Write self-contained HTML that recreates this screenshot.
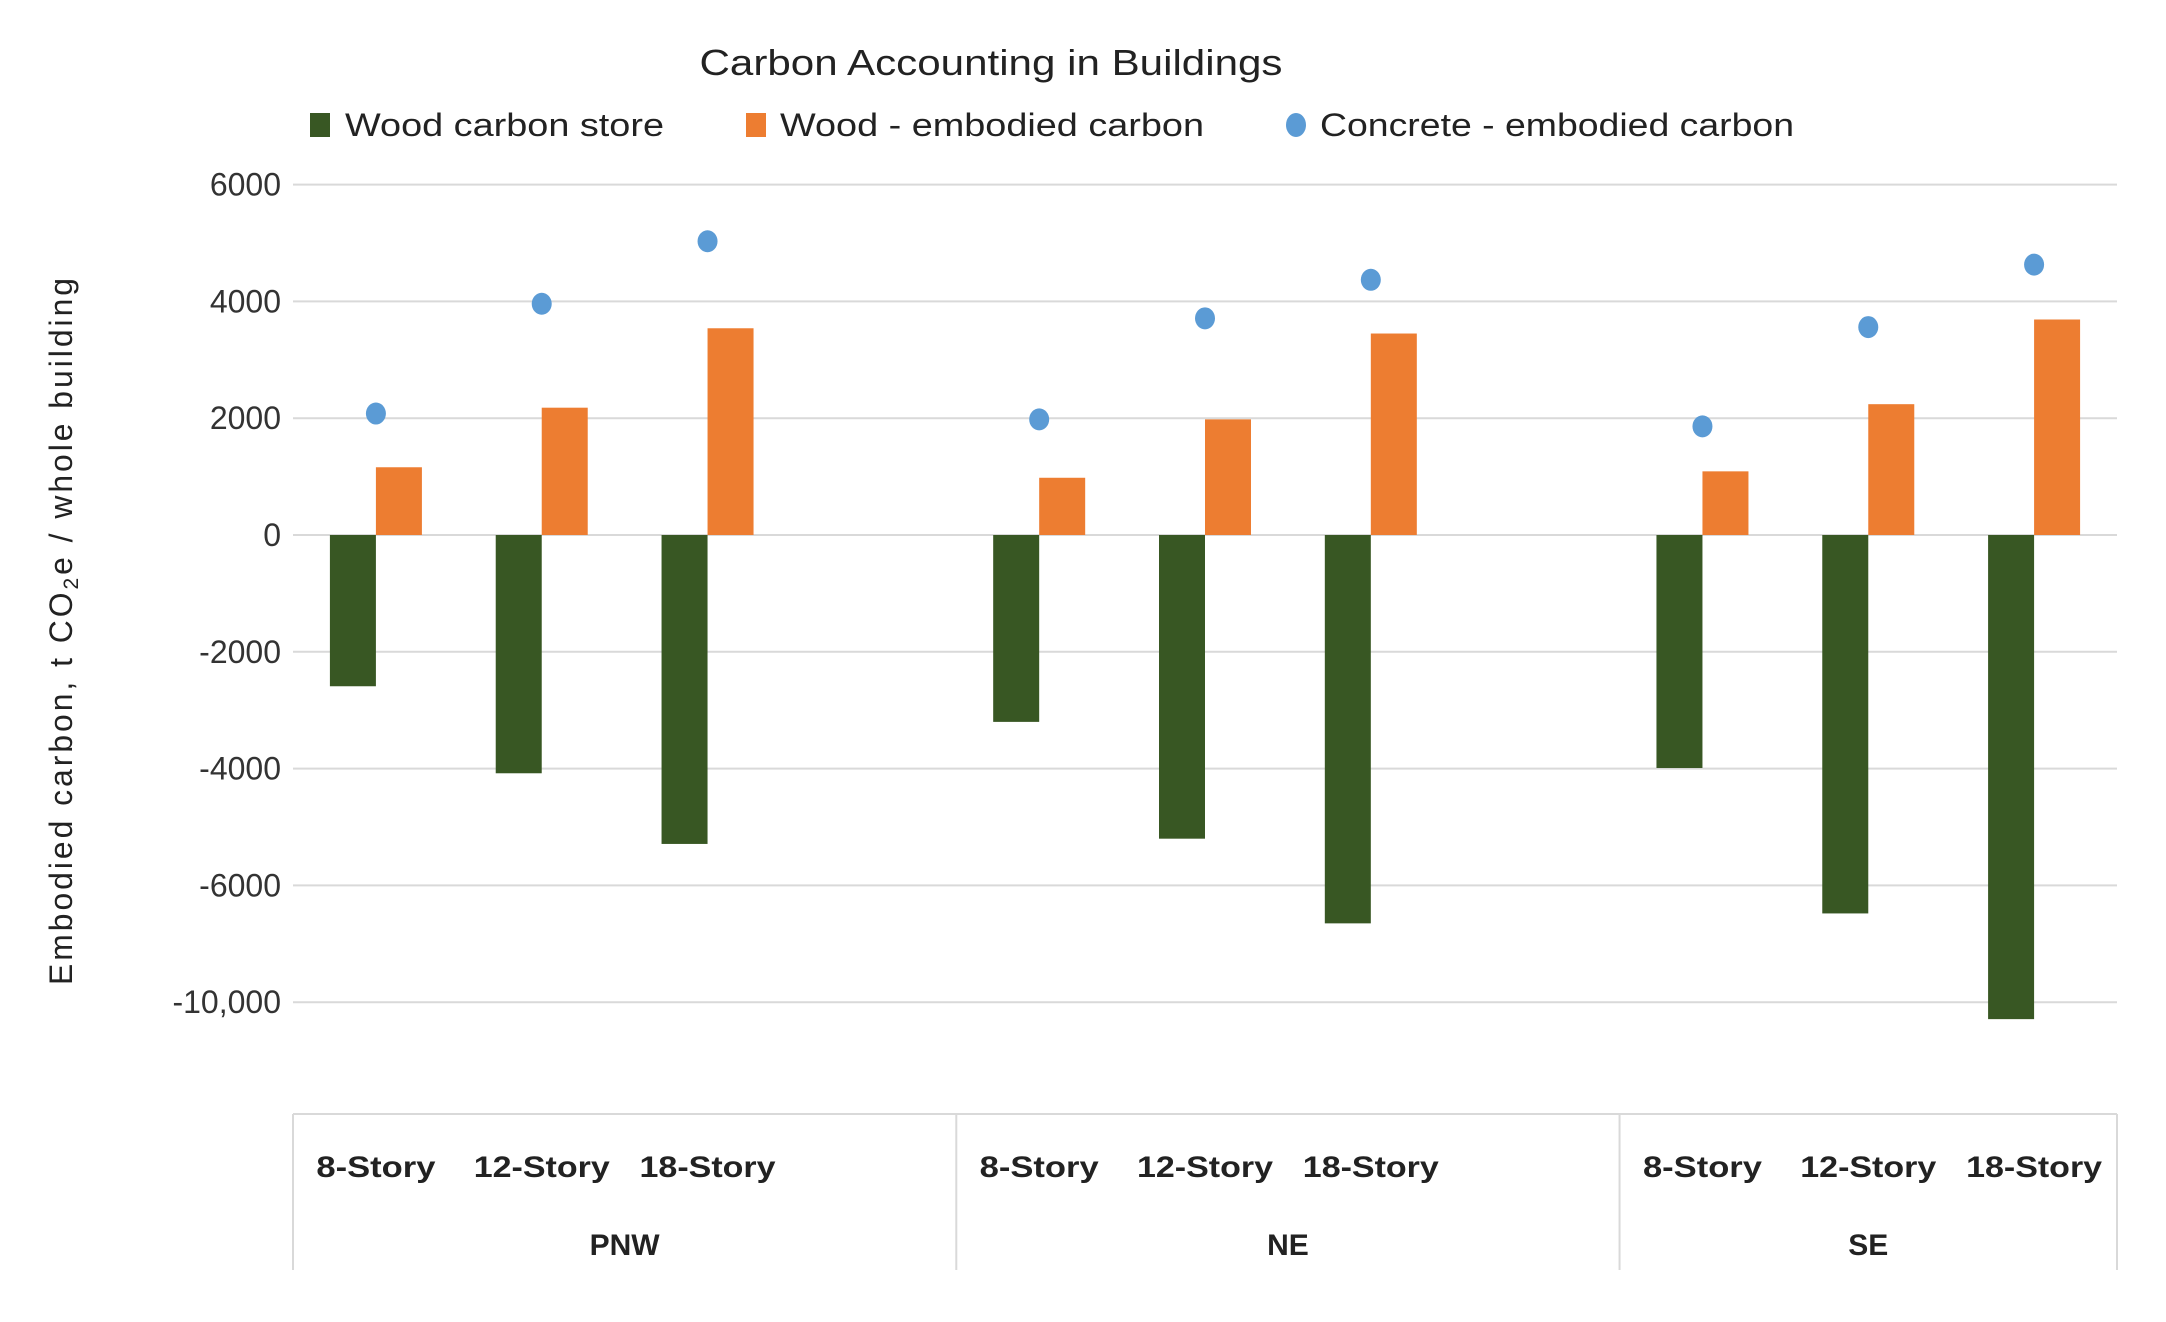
<!DOCTYPE html>
<html><head><meta charset="utf-8"><style>
html,body{margin:0;padding:0;background:#fff;}
svg{display:block;font-family:"Liberation Sans",sans-serif;}
</style></head><body>
<svg id="chart" width="2166" height="1322" viewBox="0 0 2166 1322" xmlns="http://www.w3.org/2000/svg">
<text x="991" y="75" font-size="36" text-anchor="middle" fill="#222" textLength="583" lengthAdjust="spacingAndGlyphs">Carbon Accounting in Buildings</text>
<g>
<rect x="310" y="113" width="20" height="24" fill="#385723"/>
<text x="345" y="136" font-size="32" fill="#222" textLength="319" lengthAdjust="spacingAndGlyphs">Wood carbon store</text>
<rect x="746" y="113" width="20" height="24" fill="#ed7d31"/>
<text x="780" y="136" font-size="32" fill="#222" textLength="424" lengthAdjust="spacingAndGlyphs">Wood - embodied carbon</text>
<ellipse cx="1296" cy="125" rx="10" ry="12" fill="#5b9bd5"/>
<text x="1320" y="136" font-size="32" fill="#222" textLength="474" lengthAdjust="spacingAndGlyphs">Concrete - embodied carbon</text>
</g>
<text transform="translate(72,630) rotate(-90)" font-size="32" text-anchor="middle" fill="#222" letter-spacing="3" textLength="710" lengthAdjust="spacingAndGlyphs">Embodied carbon, t  CO<tspan font-size="21" dy="6">2</tspan><tspan dy="-6">e / whole building</tspan></text>
<g id="grid"></g><g id="bars"></g><g id="dots"></g><g id="xaxis"></g>
</svg>
<script>
const categories=["8-Story","12-Story","18-Story","","8-Story","12-Story","18-Story","","8-Story","12-Story","18-Story"];
const groups=["PNW","NE","SE"];
const woodStore=[-2590,-4080,-5290,null,-3200,-5200,-6650,null,-3990,-6480,-8290];
const woodEmbodied=[1160,2180,3540,null,980,1980,3450,null,1090,2240,3690];
const concrete=[2080,3960,5030,null,1980,3710,4370,null,1860,3560,4630];
const tickValues=[6000,4000,2000,0,-2000,-4000,-6000,-8000];
const tickLabels=["6000","4000","2000","0","-2000","-4000","-6000","-10,000"];
const NS="http://www.w3.org/2000/svg";
const left=293,right=2117,zero=535,k=0.0584;
const slot=(right-left)/categories.length;
const y=v=>zero-v*k;
const xc=i=>left+slot*(i+0.5);
function mk(tag,attrs,parent,txt){const e=document.createElementNS(NS,tag);for(const a in attrs)e.setAttribute(a,attrs[a]);if(txt!==undefined)e.textContent=txt;document.getElementById(parent).appendChild(e);return e;}
tickValues.forEach((v,i)=>{
 const l=mk('line',{x1:left,x2:right,y1:y(v),y2:y(v),stroke:'#d9d9d9','stroke-width':2},'grid');
 
 
 const t=mk('text',{x:281,y:y(v)+11,'font-size':32,'text-anchor':'end',fill:'#333'},'grid',tickLabels[i]);
 
 
});
const bw=46;
categories.forEach((c,i)=>{
 if(woodStore[i]!==null){
  const b=mk('rect',{x:xc(i)-bw,y:y(0),width:bw,height:y(woodStore[i])-y(0),fill:'#385723'},'bars');
  
  
 }
 if(woodEmbodied[i]!==null){
  const b=mk('rect',{x:xc(i),y:y(woodEmbodied[i]),width:bw,height:y(0)-y(woodEmbodied[i]),fill:'#ed7d31'},'bars');
  
  
 }
 if(concrete[i]!==null){
  const d=mk('ellipse',{cx:xc(i),cy:y(concrete[i]),rx:10,ry:11,fill:'#5b9bd5'},'dots');
  
  
 }
 if(c){
  const t=mk('text',{x:xc(i),y:1177,'font-size':30,'font-weight':'bold','text-anchor':'middle',fill:'#222',textLength:Math.min(c.length*17,140),lengthAdjust:'spacingAndGlyphs'},'xaxis',c);
  
  
 }
});
const ax=mk('line',{x1:left,x2:right,y1:1114,y2:1114,stroke:'#d9d9d9','stroke-width':2},'xaxis');


const bounds=[0,4,8,11];
groups.forEach((g,j)=>{
 const x0=left+slot*bounds[j],x1=left+slot*bounds[j+1];
 const s=mk('line',{x1:x0,x2:x0,y1:1114,y2:1270,stroke:'#d9d9d9','stroke-width':2},'xaxis');
 
 
 const t=mk('text',{x:(x0+x1)/2,y:1255,'font-size':30,'font-weight':'bold','text-anchor':'middle',fill:'#222'},'xaxis',g);
 
 
});
const s2=mk('line',{x1:right,x2:right,y1:1114,y2:1270,stroke:'#d9d9d9','stroke-width':2},'xaxis');


</script>
</body></html>
